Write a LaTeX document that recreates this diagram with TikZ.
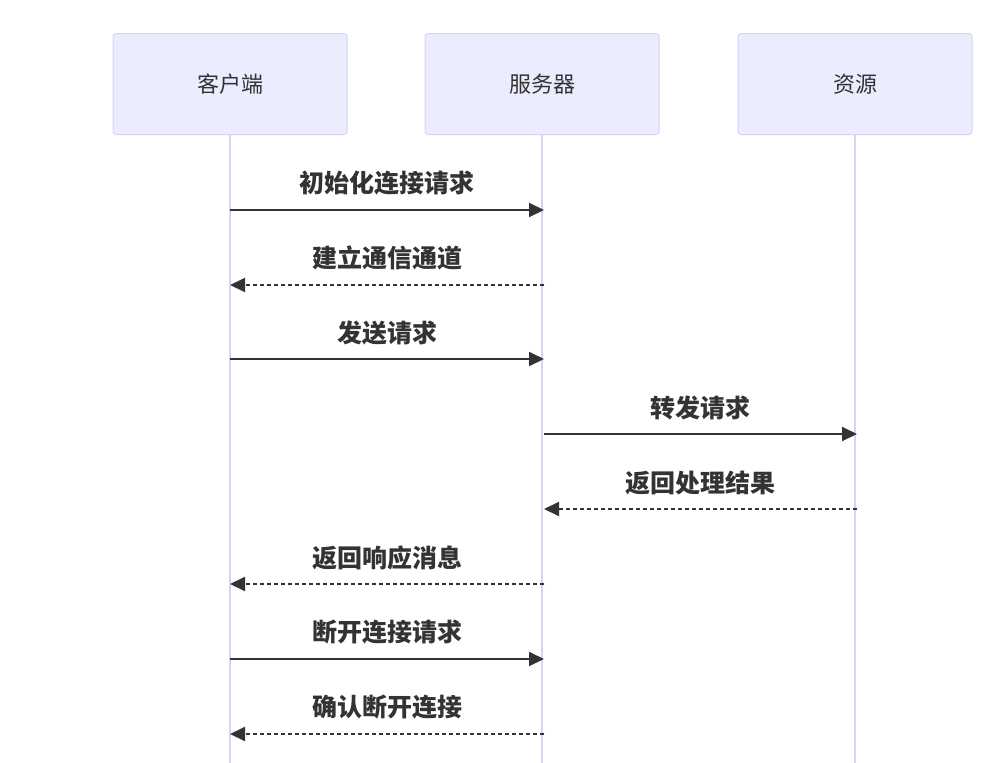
\documentclass[tikz,border=0pt]{standalone}
\usepackage{fontspec}
\setmainfont{Noto Sans CJK SC}
\usetikzlibrary{arrows.meta}
\definecolor{actfill}{HTML}{ECECFF}
\definecolor{actline}{HTML}{D6D3F2}
\definecolor{msgcol}{HTML}{333333}
\tikzset{
    actor/.style={draw=actline, fill=actfill, rounded corners=3pt, line width=1pt,
        minimum width=234pt, minimum height=101pt, font=\fontsize{22}{22}\selectfont, text=msgcol},
    lifeline/.style={draw=actline, line width=1.8pt},
    msg/.style={draw=msgcol, line width=2pt, -{Triangle[length=15pt,width=14pt]}},
    reply/.style={msg, dash pattern=on 4pt off 3pt},
    lbl/.style={font=\bfseries\fontsize{25}{25}\selectfont, text=msgcol}
}
\begin{document}
\begin{tikzpicture}[x=1pt,y=-1pt]
    \useasboundingbox (0,0) rectangle (997,763);

    \node[actor] (client) at (230,84) {客户端};
    \node[actor] (server) at (542,84) {服务器};
    \node[actor] (res) at (855,84) {资源};

    \coordinate (clientend) at (230,763);
    \coordinate (serverend) at (542,763);
    \coordinate (resend) at (855,763);

    \draw[lifeline] (client) -- (clientend);
    \draw[lifeline] (server) -- (serverend);
    \draw[lifeline] (res) -- (resend);

    % message rows
    \foreach \y [count=\i] in {210,285,359,434,509,584,659,734} {
        \coordinate (c\i) at (230,\y);
        \coordinate (s\i) at (544,\y);
        \coordinate (r\i) at (857,\y);
    }

    \draw[msg] (c1) -- (s1) node[midway, above=10pt, lbl]{初始化连接请求};
    \draw[reply] (s2) -- (c2) node[midway, above=10pt, lbl]{建立通信通道};
    \draw[msg] (c3) -- (s3) node[midway, above=10pt, lbl]{发送请求};
    \draw[msg] (s4) -- (r4) node[midway, above=10pt, lbl]{转发请求};
    \draw[reply] (r5) -- (s5) node[midway, above=10pt, lbl]{返回处理结果};
    \draw[reply] (s6) -- (c6) node[midway, above=10pt, lbl]{返回响应消息};
    \draw[msg] (c7) -- (s7) node[midway, above=10pt, lbl]{断开连接请求};
    \draw[reply] (s8) -- (c8) node[midway, above=10pt, lbl]{确认断开连接};
\end{tikzpicture}
\end{document}
